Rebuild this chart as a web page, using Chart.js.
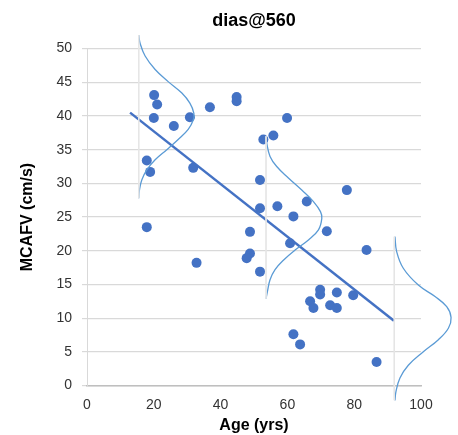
<!DOCTYPE html>
<html>
<head>
<meta charset="utf-8">
<script src="https://cdn.jsdelivr.net/npm/chart.js@4"></script>
<style>
  html, body { margin: 0; padding: 0; background: #fff; }
  #wrap { width: 458px; height: 435px; position: relative; }
</style>
</head>
<body>
<div id="wrap"><canvas id="canvas1"></canvas></div>
<script>
const ages = [17.9, 17.9, 18.9, 20.1, 21.0, 20.0, 26.0, 30.8, 31.8, 36.8, 44.8, 44.8, 51.8, 51.8, 52.8, 55.8, 59.9, 77.8, 65.8, 57.0,
  32.8, 48.8, 48.8, 47.8, 51.8, 61.8, 71.8, 60.8, 83.7, 69.8, 69.8, 74.8, 79.7, 66.8, 67.8, 72.8, 74.8, 61.8, 63.8, 86.7];
const mcafv = [23.5, 33.4, 31.7, 43.1, 41.7, 39.7, 38.5, 39.8, 32.3, 41.3, 42.8, 42.2, 30.5, 26.3, 36.5, 37.1, 39.7, 29.0, 27.3, 26.6,
  18.2, 22.8, 19.6, 18.9, 16.9, 25.1, 22.9, 21.1, 20.1, 14.2, 13.5, 13.8, 13.4, 12.5, 11.5, 11.9, 11.5, 7.6, 6.1, 3.5];

// trend line ends
const trendX = [12.9, 91.9];
const trendY = [40.5, 9.6];

// distribution curves (traced)
const curve1X = [15.5, 15.9, 17.4, 20.4, 24.3, 28.4, 30.8, 32.0, 31.8, 30.3, 27.3, 23.9, 20.4, 17.9, 16.4, 15.7, 15.5];
const curve1Y = [52.0, 50.8, 48.9, 46.9, 45.1, 43.4, 41.9, 40.4, 39.4, 38.0, 36.5, 35.0, 33.5, 32.0, 30.5, 29.0, 27.8];
const curve2X = [53.5, 53.8, 54.8, 56.8, 60.3, 64.3, 67.8, 69.9, 70.3, 69.3, 66.3, 62.3, 58.8, 56.3, 54.8, 54.0, 53.6];
const curve2Y = [37.0, 36.0, 34.0, 32.5, 30.8, 29.0, 27.3, 25.8, 24.8, 23.1, 21.6, 20.1, 18.6, 17.2, 15.7, 13.9, 12.9];
const curve3X = [92.2, 92.7, 94.7, 99.2, 104.2, 107.7, 109.0, 108.2, 105.2, 100.7, 96.2, 93.7, 92.5, 92.2];
const curve3Y = [22.1, 19.9, 17.4, 14.9, 13.2, 11.7, 10.1, 8.5, 6.8, 5.0, 3.0, 1.1, -0.9, -2.2];

// baselines under each curve
const baseX = [15.5, 53.6, 92.0];
const baseTop = [52.0, 37.0, 22.1];
const baseBottom = [27.8, 12.9, -2.2];

const toPts = (xs, ys) => xs.map((x, i) => ({ x: x, y: ys[i] }));

const blue = '#4472C4';
const curveBlue = '#5B9BD5';

const datasets = [];
baseX.forEach((bx, i) => {
  datasets.push({
    type: 'line',
    data: [{ x: bx, y: baseTop[i] }, { x: bx, y: baseBottom[i] }],
    borderColor: '#e6e6e6',
    borderWidth: 1,
    pointRadius: 0,
    clip: false
  });
});
[[curve1X, curve1Y], [curve2X, curve2Y], [curve3X, curve3Y]].forEach(c => {
  datasets.push({
    type: 'line',
    data: toPts(c[0], c[1]),
    borderColor: curveBlue,
    borderWidth: 1.3,
    pointRadius: 0,
    tension: 0.4,
    clip: false
  });
});
datasets.push({
  type: 'line',
  data: toPts(trendX, trendY),
  borderColor: blue,
  borderWidth: 2.5,
  pointRadius: 0
});
datasets.push({
  type: 'scatter',
  data: toPts(ages, mcafv),
  backgroundColor: blue,
  borderWidth: 0,
  pointRadius: 5
});

const canvas1 = document.getElementById('canvas1');
new Chart(canvas1, {
  type: 'scatter',
  data: { datasets: datasets },
  options: {
    responsive: true,
    maintainAspectRatio: false,
    animation: false,
    layout: { padding: { left: 0, right: 37, bottom: 0 } },
    plugins: {
      legend: { display: false },
      tooltip: { enabled: false },
      title: {
        display: true,
        fullSize: false,
        text: 'dias@560',
        color: '#000',
        font: { family: 'Liberation Sans', size: 18, weight: 'bold' },
        padding: { top: 10, bottom: 17 }
      }
    },
    scales: {
      x: {
        type: 'linear',
        min: 0,
        max: 100,
        ticks: { stepSize: 20, color: '#333', padding: 3, font: { family: 'Liberation Sans', size: 14 } },
        grid: { display: false },
        border: { color: '#bfbfbf', width: 1.5 },
        title: { display: true, text: 'Age (yrs)', color: '#000', padding: { top: 4, bottom: 0 },
          font: { family: 'Liberation Sans', size: 16, weight: 'bold' } },
        afterFit: s => { s.height = 49.5; }
      },
      y: {
        type: 'linear',
        min: 0,
        max: 50,
        ticks: { stepSize: 5, color: '#333', padding: 10, font: { family: 'Liberation Sans', size: 14 } },
        grid: { color: '#d9d9d9', lineWidth: 1.2, tickLength: 5 },
        border: { color: '#d9d9d9', width: 1 },
        title: { display: true, text: 'MCAFV (cm/s)', color: '#000', padding: { top: 18, bottom: 0 },
          font: { family: 'Liberation Sans', size: 16, weight: 'bold' } },
        afterFit: s => { s.width = 87; }
      }
    }
  }
});
</script>
</body>
</html>
